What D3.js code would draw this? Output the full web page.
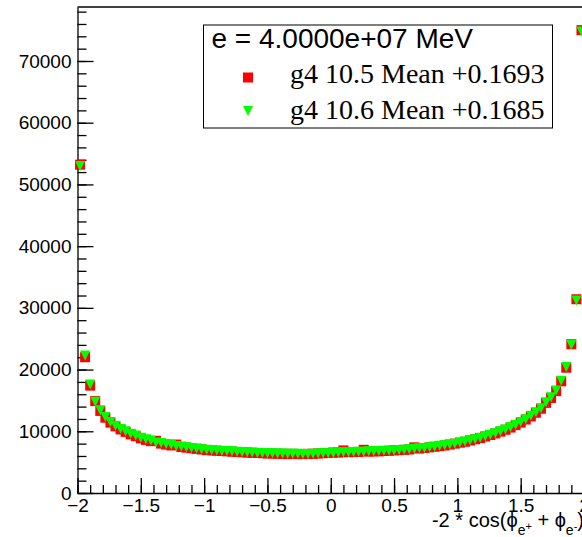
<!DOCTYPE html>
<html>
<head>
<meta charset="utf-8">
<script src="https://cdn.jsdelivr.net/npm/d3@7/dist/d3.min.js"></script>
<style>
  body { margin: 0; background: #fff; }
  #chart { width: 582px; height: 537px; overflow: hidden; }
  .axis text { font-family: "Liberation Sans", Arial, sans-serif; font-size: 19px; fill: #000; }
  .axis line, .axis path { stroke: #000; stroke-width: 1.3; }
</style>
</head>
<body>
<div id="chart"></div>
<script>
// histogram: 100 bins over [-2, 2]
const xRange = [-2, 2];
const nBins = 100;

// g4 10.5 (red squares)
const g4v105 = [
  53200, 22000, 17400, 14900, 13300, 12200, 11400, 10800, 10300, 9900,
  9500, 9200, 8850, 8600, 8400, 8450, 8000, 7850, 7700, 7850,
  7450, 7350, 7250, 7150, 7050, 6950, 6900, 6850, 6800, 6750,
  6700, 6650, 6600, 6550, 6500, 6500, 6450, 6400, 6400, 6350,
  6350, 6300, 6350, 6300, 6300, 6350, 6350, 6400, 6450, 6500,
  6550, 6550, 6900, 6600, 6650, 6650, 7000, 6700, 6750, 6750,
  6800, 6850, 6900, 6950, 7000, 7050, 7400, 7200, 7300, 7400,
  7500, 7600, 7700, 7850, 8000, 8150, 8300, 8500, 8700, 8900,
  9150, 9400, 9650, 9950, 10250, 10600, 11000, 11400, 11900, 12400,
  13000, 13650, 14600, 15400, 16500, 18100, 20300, 24100, 31400, 75000
];

// g4 10.6 (green triangles)
const g4v106 = [
  53000, 22300, 17600, 14800, 13400, 12300, 11500, 10900, 10400, 10000,
  9600, 9300, 8950, 8700, 8500, 8200, 8100, 7950, 7800, 7600,
  7550, 7400, 7300, 7200, 7100, 7000, 6950, 6900, 6800, 6800,
  6750, 6700, 6650, 6600, 6550, 6500, 6500, 6450, 6450, 6400,
  6400, 6350, 6350, 6350, 6300, 6300, 6350, 6400, 6450, 6450,
  6500, 6550, 6600, 6600, 6650, 6700, 6700, 6750, 6750, 6800,
  6850, 6850, 6900, 6950, 7000, 7100, 7150, 7250, 7300, 7400,
  7500, 7650, 7750, 7850, 8000, 8200, 8350, 8550, 8700, 8950,
  9200, 9450, 9700, 10000, 10300, 10650, 11050, 11500, 11950, 12500,
  13100, 13750, 14700, 15500, 16600, 18200, 20400, 24000, 31200, 74800
];

const xTicks = [-2, -1.5, -1, -0.5, 0, 0.5, 1, 1.5, 2];
const xTickLabels = ["\u22122", "\u22121.5", "\u22121", "\u22120.5", "0", "0.5", "1", "1.5", "2"];
const yTicks = [0, 10000, 20000, 30000, 40000, 50000, 60000, 70000];
const yMax = 78750;

const legendHeader = "e = 4.0000e+07 MeV";
const legendLabels = ["g4 10.5 Mean +0.1693", "g4 10.6 Mean +0.1685"];

const width = 582, height = 537;
const margin = {top: 7, left: 77.5, bottom: 44};
const plotRight = 584;

const svg = d3.select("#chart").append("svg")
  .attr("width", width)
  .attr("height", height);

svg.append("rect").attr("width", width).attr("height", height).attr("fill", "#fff");

const xScale = d3.scaleLinear().domain(xRange).range([margin.left, plotRight]);
const yScale = d3.scaleLinear().domain([0, yMax]).range([height - margin.bottom, margin.top]);

const binW = (xRange[1] - xRange[0]) / nBins;
const binX = i => xRange[0] + (i + 0.5) * binW;

// frame top line
svg.append("line")
  .attr("x1", margin.left).attr("x2", plotRight)
  .attr("y1", margin.top).attr("y2", margin.top)
  .attr("stroke", "#000").attr("stroke-width", 1.3);

// minor ticks
svg.append("g").attr("class", "axis")
  .attr("transform", `translate(0,${height - margin.bottom})`)
  .call(d3.axisBottom(xScale).ticks(40).tickSize(-8).tickFormat(""))
  .call(g => g.select(".domain").remove());

svg.append("g").attr("class", "axis")
  .attr("transform", `translate(${margin.left},0)`)
  .call(d3.axisLeft(yScale).tickValues(d3.range(0, yMax, 2000)).tickSize(-9).tickFormat(""))
  .call(g => g.select(".domain").remove());

// major axes
const xAxis = svg.append("g").attr("class", "axis")
  .attr("transform", `translate(0,${height - margin.bottom})`)
  .call(d3.axisBottom(xScale).tickValues(xTicks).tickSizeInner(-15).tickSizeOuter(0).tickPadding(6)
    .tickFormat((d, i) => xTickLabels[i]));
xAxis.selectAll(".tick text").attr("dy", "0.78em").attr("y", 4);

const yAxis = svg.append("g").attr("class", "axis")
  .attr("transform", `translate(${margin.left},0)`)
  .call(d3.axisLeft(yScale).tickValues(yTicks).tickSizeInner(-16).tickSizeOuter(0).tickPadding(6)
    .tickFormat(d3.format("d")));
yAxis.selectAll(".tick text").attr("x", -6);

// markers
const sq = 10;
svg.append("g").selectAll("rect")
  .data(g4v105)
  .enter()
  .append("rect")
    .attr("x", (d, i) => xScale(binX(i)) - sq / 2)
    .attr("y", d => yScale(d) - sq / 2)
    .attr("width", sq)
    .attr("height", sq)
    .attr("fill", "#ff0000");

function triDown(cx, cy, s) {
  return `M${cx - s / 2},${cy - s / 2}L${cx + s / 2},${cy - s / 2}L${cx},${cy + s / 2}Z`;
}

svg.append("g").selectAll("path")
  .data(g4v106)
  .enter()
  .append("path")
    .attr("d", (d, i) => triDown(xScale(binX(i)), yScale(d), sq))
    .attr("fill", "#00ff00");

// x axis title
const title = svg.append("text")
  .attr("x", plotRight)
  .attr("y", 527)
  .attr("text-anchor", "end")
  .attr("font-family", "Liberation Sans, Arial, sans-serif")
  .attr("font-size", 20)
  .attr("fill", "#000");
title.append("tspan").text("-2 * cos(\u03d5");
title.append("tspan").attr("font-size", 14).attr("dy", 8).text("e");
title.append("tspan").attr("font-size", 11).attr("dy", -5).text("+");
title.append("tspan").attr("dy", -3).text(" + \u03d5");
title.append("tspan").attr("font-size", 14).attr("dy", 8).text("e");
title.append("tspan").attr("font-size", 11).attr("dy", -5).text("-");
title.append("tspan").attr("dy", -3).text(")");

// legend
const legend = svg.append("g");
legend.append("rect")
  .attr("x", 203.5).attr("y", 25)
  .attr("width", 349).attr("height", 103)
  .attr("fill", "#fff").attr("stroke", "#000").attr("stroke-width", 1);

legend.append("text")
  .attr("x", 211.5).attr("y", 48)
  .attr("font-family", "Liberation Sans, Arial, sans-serif")
  .attr("font-size", 28)
  .text(legendHeader);

legend.append("rect")
  .attr("x", 248 - 5).attr("y", 77.5 - 5)
  .attr("width", 10).attr("height", 10)
  .attr("fill", "#ff0000");
legend.append("path")
  .attr("d", triDown(248, 111, 10))
  .attr("fill", "#00ff00");

legend.selectAll("text.entry")
  .data(legendLabels)
  .enter()
  .append("text")
    .attr("class", "entry")
    .attr("x", 290)
    .attr("y", (d, i) => 83 + i * 35.5)
    .attr("font-family", "Liberation Serif, Times New Roman, serif")
    .attr("font-size", 28)
    .text(d => d);
</script>
</body>
</html>
